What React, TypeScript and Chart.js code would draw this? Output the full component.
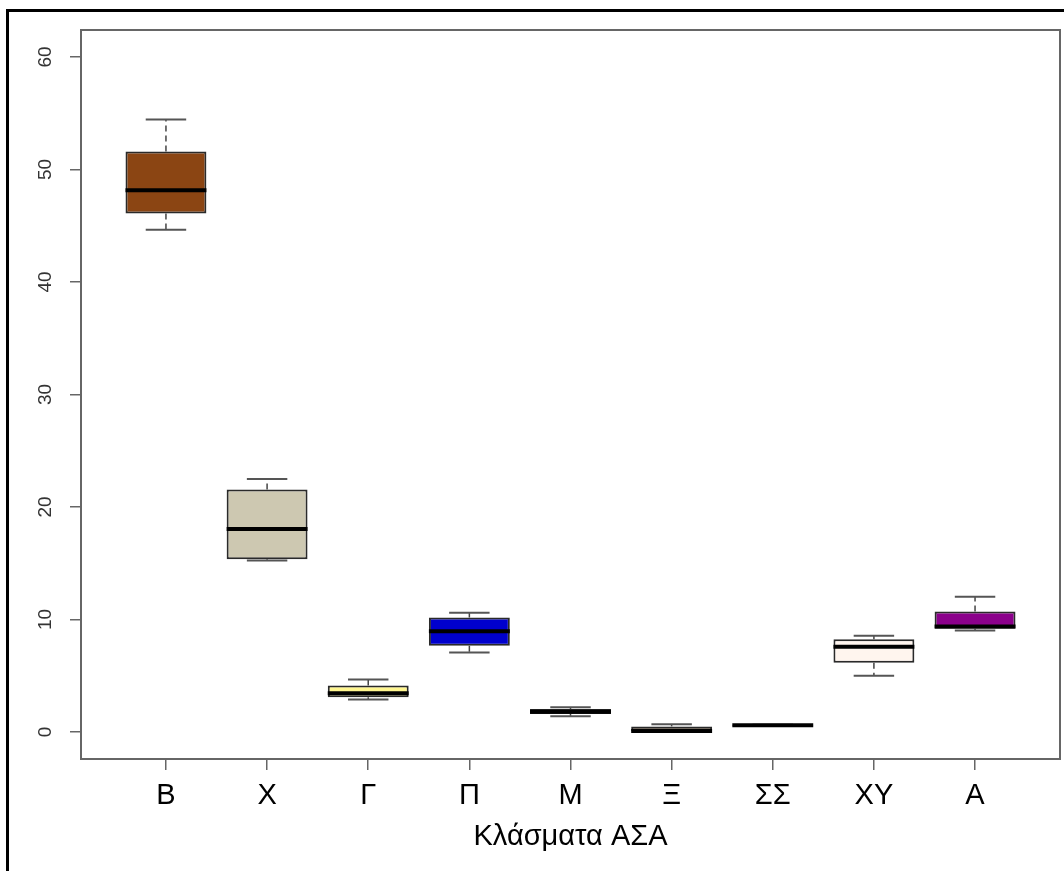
import React, { useEffect, useRef } from "react";
import { Chart, registerables } from "chart.js";

Chart.register(...registerables);

const categories = ["Β", "Χ", "Γ", "Π", "Μ", "Ξ", "ΣΣ", "ΧΥ", "Α"];
const lowerWhisker = [44.65, 15.25, 2.9, 7.07, 1.4, 0.0, 0.55, 5.0, 9.03];
const q1 = [46.1, 15.35, 3.1, 7.66, 1.6, 0.0, 0.55, 6.15, 9.17];
const median = [48.15, 18.05, 3.45, 8.96, 1.8, 0.08, 0.6, 7.57, 9.38];
const q3 = [51.6, 21.55, 4.13, 10.18, 2.05, 0.5, 0.65, 8.25, 10.72];
const upperWhisker = [54.45, 22.48, 4.66, 10.6, 2.2, 0.69, 0.65, 8.55, 12.02];
const boxColors = ["#8B4513", "#CDC8B1", "#FFF68F", "#0000CD", "#222222", "#4A3B28", "#111111", "#FFF5EE", "#8B008B"];
const yTicks = [0, 10, 20, 30, 40, 50, 60];
const xTitle = "Κλάσματα ΑΣΑ";

const FONT = "'Liberation Sans', Arial, sans-serif";

const boxPlugin = {
  id: "boxExtras",
  afterDatasetsDraw(chart: any) {
    const ctx = chart.ctx;
    const ys = chart.scales.y;
    const meta = chart.getDatasetMeta(0);
    ctx.save();
    categories.forEach((_, i) => {
      const el = meta.data[i];
      const cx = el.x;
      const w = el.width;
      const half = w / 2;
      const capHalf = w / 4;
      const yq1 = ys.getPixelForValue(q1[i]);
      const yq3 = ys.getPixelForValue(q3[i]);
      const ylo = ys.getPixelForValue(lowerWhisker[i]);
      const yhi = ys.getPixelForValue(upperWhisker[i]);
      const ymed = ys.getPixelForValue(median[i]);
      ctx.strokeStyle = "#444";
      ctx.lineWidth = 1.5;
      ctx.setLineDash([6, 4]);
      ctx.beginPath();
      ctx.moveTo(cx, yq3);
      ctx.lineTo(cx, yhi);
      ctx.moveTo(cx, yq1);
      ctx.lineTo(cx, ylo);
      ctx.stroke();
      ctx.setLineDash([]);
      ctx.strokeStyle = "#555";
      ctx.lineWidth = 2;
      ctx.beginPath();
      ctx.moveTo(cx - capHalf, yhi);
      ctx.lineTo(cx + capHalf, yhi);
      ctx.moveTo(cx - capHalf, ylo);
      ctx.lineTo(cx + capHalf, ylo);
      ctx.stroke();
      ctx.strokeStyle = "#000";
      ctx.lineWidth = 4;
      ctx.beginPath();
      ctx.moveTo(cx - half, ymed);
      ctx.lineTo(cx + half, ymed);
      ctx.stroke();
    });
    ctx.restore();
  },
  afterDraw(chart: any) {
    const ctx = chart.ctx;
    const a = chart.chartArea;
    const ys = chart.scales.y;
    ctx.save();
    ctx.strokeStyle = "#666";
    ctx.lineWidth = 2;
    ctx.strokeRect(a.left, a.top, a.right - a.left, a.bottom - a.top);
    ctx.fillStyle = "#333";
    ctx.font = `19px ${FONT}`;
    ctx.textAlign = "center";
    ctx.textBaseline = "middle";
    yTicks.forEach((v) => {
      const y = ys.getPixelForValue(v);
      ctx.save();
      ctx.translate(46, y);
      ctx.rotate(-Math.PI / 2);
      ctx.fillText(String(v), 0, 0);
      ctx.restore();
    });
    ctx.restore();
  },
};

export default function App() {
  const ref = useRef<HTMLCanvasElement>(null);
  useEffect(() => {
    if (!ref.current) return;
    const chart = new Chart(ref.current, {
      type: "bar",
      data: {
        datasets: [
          {
            data: categories.map((_, i) => ({ x: i + 1, y: [q1[i], q3[i]] })) as any,
            backgroundColor: boxColors,
            borderColor: "#2a2a2a",
            borderWidth: 2,
            borderSkipped: false,
            barPercentage: 0.8,
            categoryPercentage: 1,
          },
        ],
      },
      options: {
        animation: false,
        responsive: false,
        events: [],
        layout: { padding: { left: 0, top: 30, right: 4, bottom: 0 } },
        plugins: { legend: { display: false }, tooltip: { enabled: false } },
        scales: {
          x: {
            type: "linear",
            offset: false,
            min: 0.16,
            max: 9.84,
            afterBuildTicks: (s: any) => {
              s.ticks = categories.map((_, i) => ({ value: i + 1 }));
            },
            afterFit: (s: any) => {
              s.height = 112;
            },
            grid: {
              offset: false,
              drawOnChartArea: false,
              drawTicks: true,
              tickLength: 11,
              color: "#666",
              lineWidth: 1.5,
            },
            border: { display: false },
            ticks: {
              autoSkip: false,
              maxRotation: 0,
              padding: 9,
              color: "#000",
              font: { family: FONT, size: 29 },
              callback: (v: any) => categories[Math.round(Number(v)) - 1] ?? "",
            },
            title: {
              display: true,
              text: xTitle,
              color: "#000",
              font: { family: FONT, size: 29 },
              padding: { top: 0, bottom: 17 },
            },
          },
          y: {
            type: "linear",
            min: -2.4,
            max: 62.4,
            afterBuildTicks: (s: any) => {
              s.ticks = yTicks.map((v) => ({ value: v }));
            },
            afterFit: (s: any) => {
              s.width = 81;
            },
            grid: {
              drawOnChartArea: false,
              drawTicks: true,
              tickLength: 11,
              color: "#666",
              lineWidth: 1.5,
            },
            border: { display: false },
            ticks: { display: false },
          },
        },
      },
      plugins: [boxPlugin],
    });
    return () => chart.destroy();
  }, []);
  return (
    <div style={{ position: "fixed", left: 0, top: 0, width: 1064, height: 871, overflow: "hidden", background: "#fff" }}>
      <div
        style={{
          position: "absolute",
          left: 6,
          top: 9,
          width: 1200,
          height: 1000,
          border: "3px solid #000",
        }}
      />
      <canvas ref={ref} width={1064} height={871} style={{ position: "absolute", left: 0, top: 0 }} />
    </div>
  );
}
